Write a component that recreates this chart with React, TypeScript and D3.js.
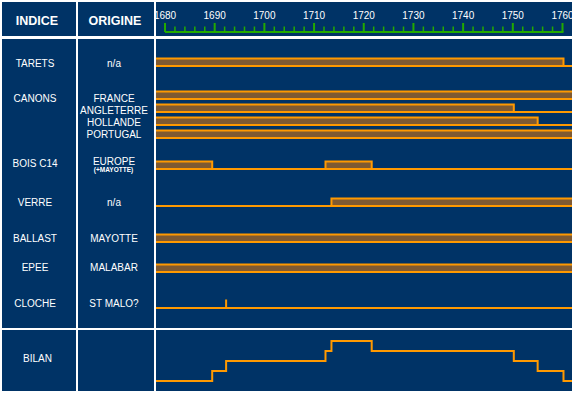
import * as d3 from "d3";

// chart data
const indiceLabels = ["TARETS", "CANONS", "BOIS C14", "VERRE", "BALLAST", "EPEE", "CLOCHE"];
const trackOrigins = ["n/a", "FRANCE", "ANGLETERRE", "HOLLANDE", "PORTUGAL", "EUROPE", "n/a", "MAYOTTE", "MALABAR", "ST MALO?"];
const trackIndice = [0, 1, 1, 1, 1, 2, 3, 4, 5, 6];
// presence spans per track, in years (open ends run past the panel edge)
const trackSpans: [number, number][][] = [
  [[1670, 1760.2]],
  [[1670, 1770]],
  [[1670, 1750.2]],
  [[1670, 1755]],
  [[1670, 1770]],
  [[1670, 1689.5], [1712.3, 1721.6]],
  [[1713.5, 1770]],
  [[1670, 1770]],
  [[1670, 1770]],
  [[1692.3, 1692.3]],
];
const bilanYears = [1670, 1689.5, 1692.3, 1712.3, 1713.5, 1721.6, 1750.2, 1755, 1760.2, 1770];
const bilanLevels = [0, 1, 2, 3, 4, 3, 2, 1, 0, 0];

// layout
const W = 574;
const H = 393;
const trackBase = [66, 99, 112, 125, 138, 169, 206, 242, 272, 308];
const indiceY = [63.5, 98.5, 163.5, 202.5, 238.5, 267.5, 303.5];
const originY = [63.5, 98.5, 110.5, 122, 134.5, 161.5, 202.5, 238.5, 267.5, 303.5];

const BG = "#003366";
const ORANGE = "#ff9900";
const BROWN = "#7f5a32";
const GREEN = "#22aa00";
const FONT = "'Liberation Sans', Arial, sans-serif";

export default function App() {
  const x = d3.scaleLinear().domain([1680, 1760]).range([165, 562.5]);
  const yBilan = d3.scaleLinear().domain([0, 4]).range([381, 341]);
  const ticks = x.ticks(40);

  const bilanLine = d3
    .line<number>()
    .x((d, i) => x(bilanYears[i]))
    .y((d) => yBilan(d))
    .curve(d3.curveStepAfter);

  const barH = 7.5;

  return (
    <svg
      width={W}
      height={H}
      style={{ position: "absolute", left: 0, top: 0, display: "block" }}
      fontFamily={FONT}
    >
      <defs>
        <clipPath id="plot-clip">
          <rect x={156} y={39} width={416} height={352} />
        </clipPath>
        <clipPath id="axis-clip">
          <rect x={156} y={2} width={416} height={34} />
        </clipPath>
      </defs>
      <rect width={W} height={H} fill="#fff" />

      {/* panels */}
      <rect x={2} y={2} width={74} height={34} fill={BG} />
      <rect x={78} y={2} width={76} height={34} fill={BG} />
      <rect x={156} y={2} width={416} height={34} fill={BG} />
      <rect x={2} y={39} width={74} height={289} fill={BG} />
      <rect x={78} y={39} width={76} height={289} fill={BG} />
      <rect x={156} y={39} width={416} height={289} fill={BG} />
      <rect x={2} y={330} width={74} height={61} fill={BG} />
      <rect x={78} y={330} width={76} height={61} fill={BG} />
      <rect x={156} y={330} width={416} height={61} fill={BG} />

      {/* headers */}
      <text x={37} y={24.5} fill="#fff" fontSize={12.5} fontWeight="bold" textAnchor="middle">
        INDICE
      </text>
      <text x={115} y={24.5} fill="#fff" fontSize={12.5} fontWeight="bold" textAnchor="middle">
        ORIGINE
      </text>

      {/* time axis */}
      <g clipPath="url(#axis-clip)">
        <line x1={x(1680)} x2={x(1760) + 1} y1={32} y2={32} stroke={GREEN} strokeWidth={2} />
        {ticks.map((t) => (
          <line
            key={t}
            x1={x(t)}
            x2={x(t)}
            y1={t % 10 === 0 ? 23 : 26.5}
            y2={32}
            stroke={GREEN}
            strokeWidth={t % 10 === 0 ? 2 : 1.5}
          />
        ))}
        {ticks
          .filter((t) => t % 10 === 0)
          .map((t) => (
            <text key={t} x={x(t)} y={19} fill="#fff" fontSize={10} textAnchor="middle">
              {t}
            </text>
          ))}
      </g>

      {/* indice labels */}
      {indiceLabels.map((d, i) => (
        <text key={d} x={35} y={indiceY[i] + 3.5} fill="#fff" fontSize={10} textAnchor="middle">
          {d}
        </text>
      ))}
      <text x={37.5} y={362} fill="#fff" fontSize={10} textAnchor="middle">
        BILAN
      </text>

      {/* origin labels */}
      {trackOrigins.map((d, i) => (
        <text key={i} x={114} y={originY[i] + 3.5} fill="#fff" fontSize={10} textAnchor="middle">
          {d}
        </text>
      ))}
      <text x={113.5} y={171.5} fill="#fff" fontSize={6.5} fontWeight="bold" textAnchor="middle">
        (+MAYOTTE)
      </text>

      {/* tracks */}
      <g clipPath="url(#plot-clip)">
        {trackSpans.map((spans, i) => (
          <g key={i} data-indice={indiceLabels[trackIndice[i]]}>
            <line x1={150} x2={580} y1={trackBase[i]} y2={trackBase[i]} stroke={ORANGE} strokeWidth={2} />
            {spans.map(([a, b], j) =>
              b - a <= 0 ? (
                // single-year find: drawn as a spike
                <line
                  key={j}
                  x1={x(a)}
                  x2={x(a)}
                  y1={trackBase[i] - barH - 1}
                  y2={trackBase[i]}
                  stroke={ORANGE}
                  strokeWidth={2}
                />
              ) : (
                <rect
                  key={j}
                  x={x(a)}
                  y={trackBase[i] - barH}
                  width={x(b) - x(a)}
                  height={barH}
                  fill={BROWN}
                  stroke={ORANGE}
                  strokeWidth={2}
                />
              )
            )}
          </g>
        ))}
        <path d={bilanLine(bilanLevels) ?? ""} fill="none" stroke={ORANGE} strokeWidth={2} />
      </g>
    </svg>
  );
}
